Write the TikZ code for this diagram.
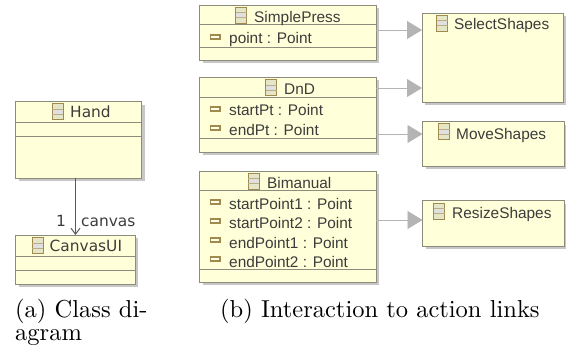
\documentclass[tikz,border=0pt]{standalone}
\usepackage{fontspec}
\setmainfont{Latin Modern Roman}
\newfontfamily\capf{lmroman10-regular.otf}
\newfontfamily\djv{DejaVu Sans}
\newfontfamily\lib{Liberation Sans}
\usetikzlibrary{arrows.meta}
\definecolor{boxfill}{HTML}{FFFFD9}
\definecolor{boxline}{HTML}{8C8C7C}
\definecolor{iconline}{HTML}{A08A50}
\definecolor{inktext}{HTML}{3C3C3C}
\definecolor{linkgray}{HTML}{B4B4B4}
\tikzset{
  x=1pt,y=-1pt,
  umlbox/.style={draw=boxline,fill=boxfill,line width=0.9pt,inner sep=0pt,outer sep=0pt,anchor=north west},
  shade box/.style={fill=black!22,draw=none},
  divider/.style={draw=boxline,line width=0.9pt},
  djvlabel/.style={font=\djv\fontsize{15.4}{16}\selectfont,text=inktext,inner sep=0pt,anchor=base west},
  liblabel/.style={font=\lib\fontsize{15.4}{16}\selectfont,text=inktext,inner sep=0pt,anchor=base west},
  caplabel/.style={font=\capf\fontsize{24.5}{26}\selectfont,text=black,inner sep=0pt,anchor=base west},
  link/.style={draw=linkgray,line width=0.8pt,-{Triangle[length=15pt,width=18pt,fill=linkgray]}},
  assoc/.style={draw=black!65,line width=1pt,-{Straight Barb[length=6pt,width=9pt]}},
}
\newcommand{\umlrect}[5]{% name,x,y,w,h
  \fill[shade box] (#2+3,#3+3) rectangle +(#4,#5);
  \node[umlbox,minimum width=#4 pt,minimum height=#5 pt] (#1) at (#2,#3) {};
}
\newcommand{\hdiv}[3]{\draw[divider] (#1,#3) -- (#2,#3);}
\newcommand{\classicon}[2]{% x,y top left
  \fill[boxfill!80!gray] (#1,#2) rectangle +(11,16);
  \fill[black!12] (#1,#2+5.3) rectangle +(11,5.4);
  \draw[iconline,line width=0.9pt] (#1,#2) rectangle +(11,16);
  \draw[iconline!70,line width=0.6pt] (#1,#2+5.3) -- +(11,0) (#1,#2+10.7) -- +(11,0);
}
\newcommand{\fieldicon}[2]{% x,y centre-left
  \draw[iconline,fill=boxfill!60!white,line width=1.1pt] (#1,#2-2) rectangle +(9.5,4);
}
\begin{document}
\begin{tikzpicture}
\useasboundingbox (0,0) rectangle (566,346);
% --- (a)
\umlrect{hand}{15.5}{101.5}{126}{76.5}
\hdiv{15.5}{141.5}{122}
\hdiv{15.5}{141.5}{136}
\classicon{52}{103.5}
\node[djvlabel] (handt) at (70,117) {Hand};
\umlrect{cui}{15.5}{235}{119.5}{49}
\hdiv{15.5}{135}{256}
\hdiv{15.5}{135}{270}
\classicon{32}{237.5}
\node[djvlabel] (cuit) at (49.5,251) {CanvasUI};
\draw[assoc] ([xshift=-3pt]hand.south) -- ([xshift=0.25pt]cui.north);
\node[djvlabel] (one) at (56,226) {1};
\node[djvlabel] (canv) at (81,226) {canvas};
% --- (b) left
\umlrect{sp}{199.5}{5}{176.5}{55}
\hdiv{199.5}{376}{24.5}
\hdiv{199.5}{376}{47.5}
\classicon{235.5}{7}
\node[liblabel] (spt) at (254,22) {SimplePress};
\fieldicon{210.5}{37}
\node[liblabel] (spa) at (229,43) {point : Point};
\umlrect{dnd}{199.5}{77}{176.5}{75}
\hdiv{199.5}{376}{97}
\hdiv{199.5}{376}{138}
\classicon{265.5}{79.5}
\node[liblabel] (dndt) at (284,94) {DnD};
\fieldicon{210.5}{109}
\node[liblabel] (dnda) at (229,115) {startPt : Point};
\fieldicon{210.5}{128}
\node[liblabel] (dndb) at (229,135) {endPt : Point};
\umlrect{bim}{199.5}{171}{176.5}{111}
\hdiv{199.5}{376}{190}
\hdiv{199.5}{376}{269.5}
\classicon{248}{173}
\node[liblabel] (bimt) at (267,188) {Bimanual};
\fieldicon{210.5}{202}
\node[liblabel] (bima) at (229,209) {startPoint1 : Point};
\fieldicon{210.5}{221}
\node[liblabel] (bimb) at (229,228) {startPoint2 : Point};
\fieldicon{210.5}{240}
\node[liblabel] (bimc) at (229,248) {endPoint1 : Point};
\fieldicon{210.5}{259}
\node[liblabel] (bimd) at (229,267) {endPoint2 : Point};
% --- (b) right
\umlrect{sel}{422}{13}{141}{89}
\classicon{436.5}{15}
\node[liblabel] (selt) at (454,29) {SelectShapes};
\umlrect{mov}{422.5}{121.5}{141.5}{44.5}
\classicon{438.5}{123.5}
\node[liblabel] (movt) at (456,139) {MoveShapes};
\umlrect{res}{422.5}{200.5}{141.5}{45.5}
\classicon{433.5}{203}
\node[liblabel] (rest) at (452,218) {ResizeShapes};
\draw[link] ([yshift=2.5pt]sp.east) -- ([yshift=27.5pt]sel.west);
\draw[link] ([yshift=26.5pt]dnd.east) -- ([yshift=-30.5pt]sel.west);
\draw[link] ([yshift=-19.5pt]dnd.east) -- ([yshift=9.75pt]mov.west);
\draw[link] ([yshift=6.5pt]bim.east) -- ([yshift=3.25pt]res.west);
% --- captions
\node[caplabel] (capa1) at (15,317) {(a) Class di-};
\node[caplabel] (capa2) at (15,340) {agram};
\node[caplabel] (capb) at (220,317) {(b) Interaction to action links};
\end{tikzpicture}
\end{document}
